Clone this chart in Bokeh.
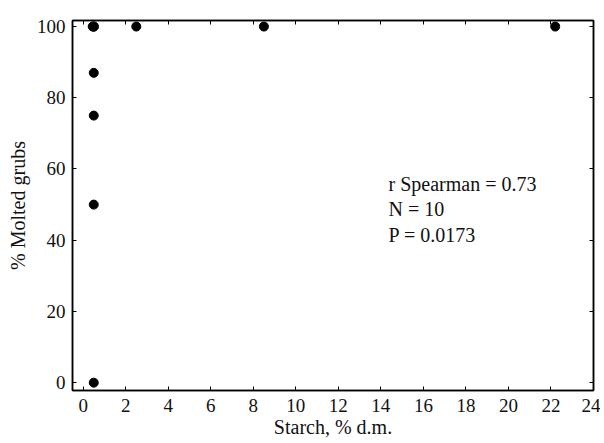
from bokeh.plotting import figure
from bokeh.models import LinearAxis, Label, Range1d
from bokeh.embed import file_html
from bokeh.resources import INLINE

# Data
starch = [0.45, 0.5, 0.5, 0.5, 0.5, 0.5, 0.5, 2.5, 8.5, 22.2]
molted = [100, 100, 100, 87, 75, 50, 0, 100, 100, 100]
x_ticks = list(range(0, 25, 2))
y_ticks = list(range(0, 101, 20))
stats_lines = ["r Spearman = 0.73", "N = 10", "P = 0.0173"]

FONT = "Liberation Serif"

p = figure(width=600, height=440, output_backend="svg", toolbar_location=None,
           x_range=Range1d(-0.5, 24), y_range=Range1d(-2.2, 101.7),
           min_border_left=72, min_border_top=20, min_border_right=7, min_border_bottom=47)
p.xgrid.visible = False
p.ygrid.visible = False
p.outline_line_color = "black"
p.outline_line_width = 1.5
p.background_fill_color = "white"
p.border_fill_color = "white"

p.scatter(starch, molted, size=9, color="black")

def style(ax, ticks, minor, show_labels=True):
    ax.ticker = ticks
    ax.ticker.num_minor_ticks = minor
    ax.axis_line_color = "black"
    ax.axis_line_width = 1.5
    ax.major_tick_in = 4
    ax.major_tick_out = 0
    ax.minor_tick_in = 3
    ax.minor_tick_out = 0
    ax.major_tick_line_color = "black"
    ax.minor_tick_line_color = "black"
    ax.major_label_text_font = FONT
    ax.major_label_text_font_size = "19px"
    ax.major_label_text_color = "#111111"
    ax.axis_label_text_font = FONT
    ax.axis_label_text_font_size = "20px"
    ax.axis_label_text_font_style = "normal"
    ax.axis_label_text_color = "#111111"
    if not show_labels:
        ax.major_label_overrides = {t: "" for t in ticks}
        ax.major_label_standoff = 0

style(p.xaxis[0], x_ticks, 2)
style(p.yaxis[0], y_ticks, 5)
p.xaxis[0].axis_label = "Starch, % d.m."
p.yaxis[0].axis_label = "% Molted grubs"
p.xaxis[0].major_label_standoff = 8
p.xaxis[0].axis_label_standoff = 1
p.yaxis[0].major_label_standoff = 7
p.yaxis[0].axis_label_standoff = 5

top = LinearAxis()
style(top, x_ticks, 2, show_labels=False)
p.add_layout(top, "above")
right = LinearAxis()
style(right, y_ticks, 5, show_labels=False)
p.add_layout(right, "right")

ys = [55.7, 48.8, 41.5]
for t, yy in zip(stats_lines, ys):
    p.add_layout(Label(x=14.36, y=yy, text=t, text_font=FONT, text_font_size="20px",
                       text_baseline="middle", text_color="#111111"))

open("out.html", "w").write(file_html(p, INLINE))
